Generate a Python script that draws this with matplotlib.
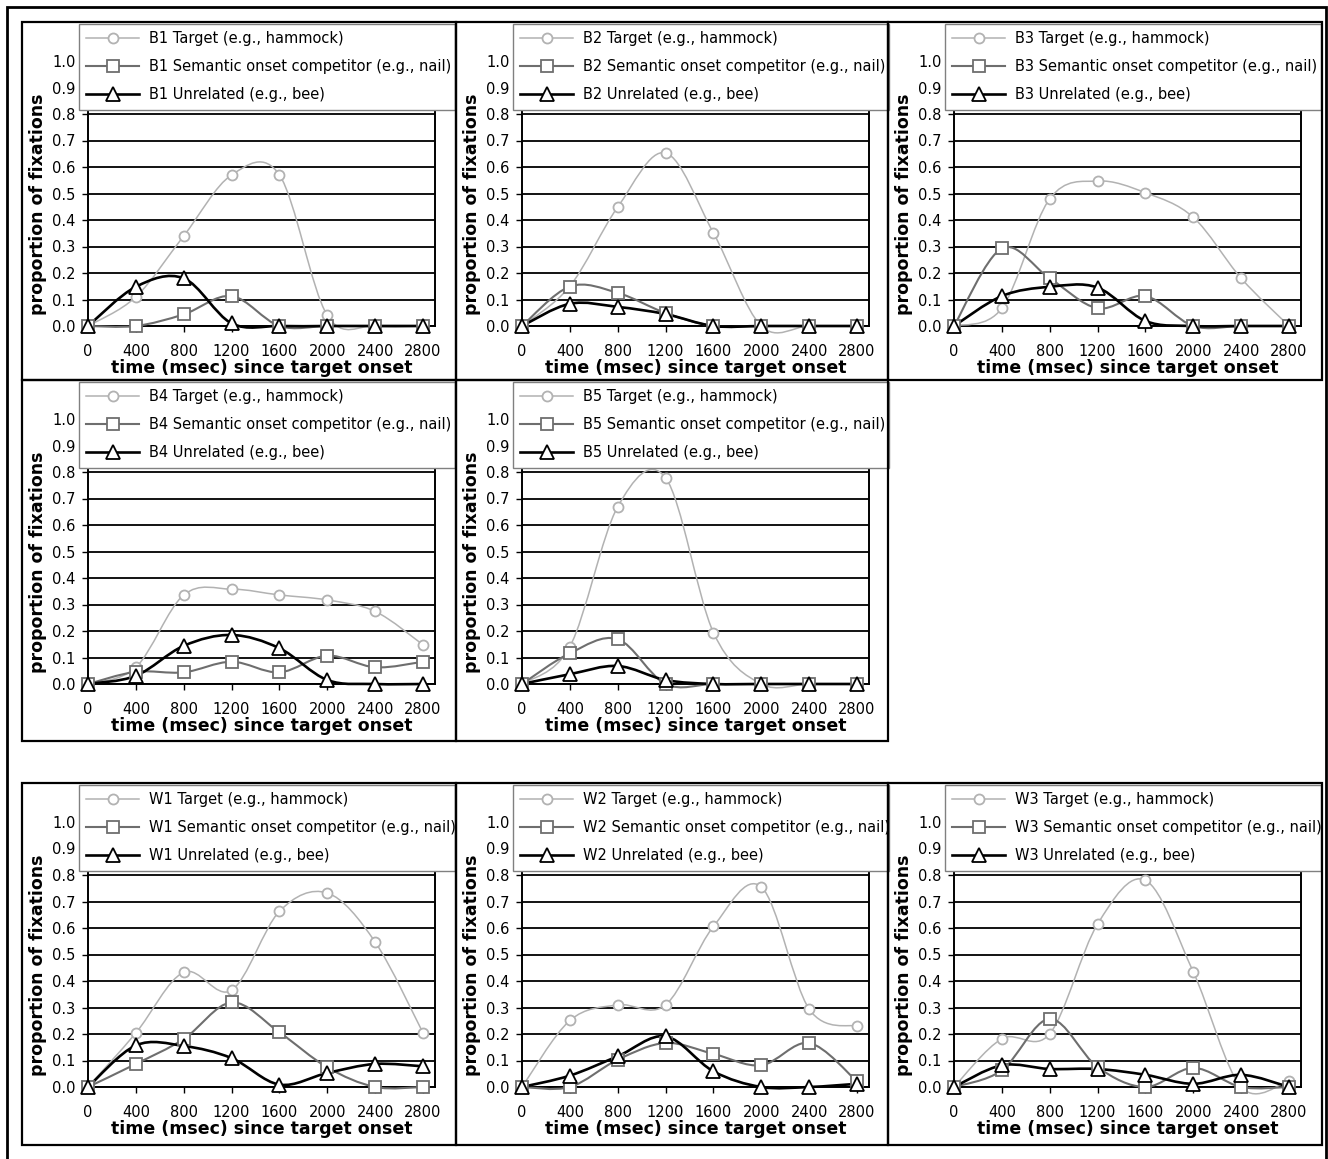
import numpy as np
import matplotlib
matplotlib.use("Agg")
import matplotlib.pyplot as plt
from matplotlib.path import Path
from matplotlib.patches import PathPatch, Rectangle
from matplotlib.lines import Line2D

# time bins (msec since target onset)
time_ms = [0, 400, 800, 1200, 1600, 2000, 2400, 2800]

b1_target = [0, 0.11, 0.34, 0.57, 0.57, 0.04, 0, 0]
b1_competitor = [0, 0, 0.044, 0.113, 0, 0, 0, 0]
b1_unrelated = [0, 0.148, 0.18, 0.01, 0, 0, 0, 0]

b2_target = [0, 0.15, 0.449, 0.653, 0.351, 0, 0, 0]
b2_competitor = [0, 0.149, 0.125, 0.049, 0, 0, 0, 0]
b2_unrelated = [0, 0.084, 0.072, 0.045, 0, 0, 0, 0]

b3_target = [0, 0.067, 0.48, 0.547, 0.503, 0.41, 0.18, 0]
b3_competitor = [0, 0.293, 0.18, 0.067, 0.113, 0, 0, 0]
b3_unrelated = [0, 0.113, 0.148, 0.145, 0.019, 0, 0, 0]

b4_target = [0, 0.063, 0.336, 0.358, 0.336, 0.317, 0.274, 0.148]
b4_competitor = [0, 0.046, 0.044, 0.084, 0.044, 0.107, 0.063, 0.084]
b4_unrelated = [0, 0.031, 0.144, 0.185, 0.135, 0.015, 0, 0]

b5_target = [0, 0.141, 0.669, 0.778, 0.194, 0, 0, 0]
b5_competitor = [0, 0.116, 0.169, 0, 0, 0, 0, 0]
b5_unrelated = [0, 0.037, 0.068, 0.015, 0, 0, 0, 0]

w1_target = [0, 0.204, 0.433, 0.365, 0.663, 0.732, 0.547, 0.204]
w1_competitor = [0, 0.087, 0.181, 0.319, 0.206, 0.074, 0, 0]
w1_unrelated = [0, 0.157, 0.155, 0.109, 0.009, 0.053, 0.087, 0.078]

w2_target = [0, 0.251, 0.31, 0.31, 0.606, 0.755, 0.294, 0.229]
w2_competitor = [0, 0, 0.103, 0.166, 0.125, 0.082, 0.166, 0.021]
w2_unrelated = [0, 0.043, 0.116, 0.191, 0.059, 0, 0, 0.012]

w3_target = [0, 0.182, 0.201, 0.615, 0.78, 0.434, 0, 0.024]
w3_competitor = [0, 0.063, 0.257, 0.075, 0, 0.072, 0, 0]
w3_unrelated = [0, 0.082, 0.068, 0.068, 0.046, 0.012, 0.046, 0]

y_ticks = [0.0, 0.1, 0.2, 0.3, 0.4, 0.5, 0.6, 0.7, 0.8, 0.9, 1.0]

# (name, column, row, series)
panels = [
    ("B1", 0, 0, b1_target, b1_competitor, b1_unrelated),
    ("B2", 1, 0, b2_target, b2_competitor, b2_unrelated),
    ("B3", 2, 0, b3_target, b3_competitor, b3_unrelated),
    ("B4", 0, 1, b4_target, b4_competitor, b4_unrelated),
    ("B5", 1, 1, b5_target, b5_competitor, b5_unrelated),
    ("W1", 0, 2, w1_target, w1_competitor, w1_unrelated),
    ("W2", 1, 2, w2_target, w2_competitor, w2_unrelated),
    ("W3", 2, 2, w3_target, w3_competitor, w3_unrelated),
]

W, H = 1328, 1159
col_left = [22, 456, 888]
col_right = [456, 888, 1322]
row_top = [22, 380, 783]
row_bottom = [380, 741, 1145]

styles = [
    # label suffix, color, linewidth, marker, markersize
    ("Target (e.g., hammock)", "#b2b2b2", 1.1, "o", 7.2),
    ("Semantic onset competitor (e.g., nail)", "#6e6e6e", 1.5, "s", 9.0),
    ("Unrelated (e.g., bee)", "#000000", 1.9, "^", 9.5),
]

FS = 10.5


def smooth_path(x, y):
    # spreadsheet-style smoothed line: cubic Bezier through every point
    pts = np.column_stack([x, y]).astype(float)
    n = len(pts)
    verts = [pts[0]]
    codes = [Path.MOVETO]
    for i in range(n - 1):
        p0 = pts[max(i - 1, 0)]
        p1 = pts[i]
        p2 = pts[i + 1]
        p3 = pts[min(i + 2, n - 1)]
        verts += [p1 + (p2 - p0) / 6.0, p2 - (p3 - p1) / 6.0, p2]
        codes += [Path.CURVE4] * 3
    return Path(verts, codes)


def fx(px):
    return px / W


def fy(py):
    return 1 - py / H


fig = plt.figure(figsize=(W / 100, H / 100), dpi=100)
plt.rcParams["font.family"] = "DejaVu Sans"

# outer frame (runs off the bottom edge)
fig.add_artist(Rectangle((fx(7), fy(1170)), (1326 - 7) / W, (1170 - 7) / H,
                         transform=fig.transFigure, fill=False, lw=2.0,
                         ec="black", zorder=10, clip_on=True))

for name, c, r, target, competitor, unrelated in panels:
    pl, pr, pt, pb = col_left[c], col_right[c], row_top[r], row_bottom[r]

    fig.add_artist(Rectangle((fx(pl), fy(pb)), (pr - pl) / W, (pb - pt) / H,
                             transform=fig.transFigure, fill=False, lw=1.6,
                             ec="black", zorder=10))

    ax_left = pl + 66
    ax_bottom = pt + 304
    ax = fig.add_axes([fx(ax_left), fy(ax_bottom), 347 / W, 265 / H])
    ax.set_xlim(0, 2900)
    ax.set_ylim(0, 1.0)
    ax.set_axisbelow(True)
    ax.yaxis.grid(True, color="black", lw=1.3)
    ax.set_xticks(time_ms)
    ax.set_xticklabels([str(t) for t in time_ms], fontsize=FS)
    ax.set_yticks(y_ticks)
    ax.set_yticklabels(["%.1f" % v for v in y_ticks], fontsize=FS)
    ax.tick_params(axis="x", length=4, width=1, pad=9, direction="out")
    ax.tick_params(axis="y", length=4, width=1, pad=5, direction="out")
    for s in ["left", "right", "bottom"]:
        ax.spines[s].set_linewidth(1.4)
        ax.spines[s].set_color("black")
    ax.spines["top"].set_visible(False)

    ax.set_xlabel("time (msec) since target onset", fontsize=12.5,
                  fontweight="bold")
    ax.xaxis.set_label_coords(0.5, -0.158)
    ax.xaxis.label.set_va("center")
    ax.set_ylabel("proportion of fixations", fontsize=12.5, fontweight="bold")
    ax.yaxis.set_label_coords(-0.144, 0.46)
    ax.yaxis.label.set_va("center")

    handles = []
    labels = []
    for (suffix, color, lw, marker, ms), vals in zip(styles, [target, competitor, unrelated]):
        patch = PathPatch(smooth_path(time_ms, vals), fill=False, ec=color,
                          lw=lw, zorder=3, clip_on=False)
        ax.add_patch(patch)
        ax.plot(time_ms, vals, linestyle="none", marker=marker, ms=ms,
                mfc="white", mec=color, mew=1.3, zorder=4, clip_on=False)
        handles.append(Line2D([], [], color=color, lw=lw, marker=marker,
                              ms=ms, mfc="white", mec=color, mew=1.3))
        labels.append(f"{name} {suffix}")

    leg = fig.legend(handles, labels, loc="upper left",
                     bbox_to_anchor=(fx(pl + 57), fy(pt + 3), 376 / W, 0.001),
                     mode="expand", borderaxespad=0, fontsize=FS,
                     frameon=True, fancybox=False, framealpha=1,
                     facecolor="white", edgecolor="#808080",
                     borderpad=0.5, labelspacing=0.9, handlelength=3.6,
                     handletextpad=0.7, numpoints=1)
    leg.get_frame().set_linewidth(1.0)
    leg.set_zorder(5)

fig.savefig("out.png", dpi=100)
